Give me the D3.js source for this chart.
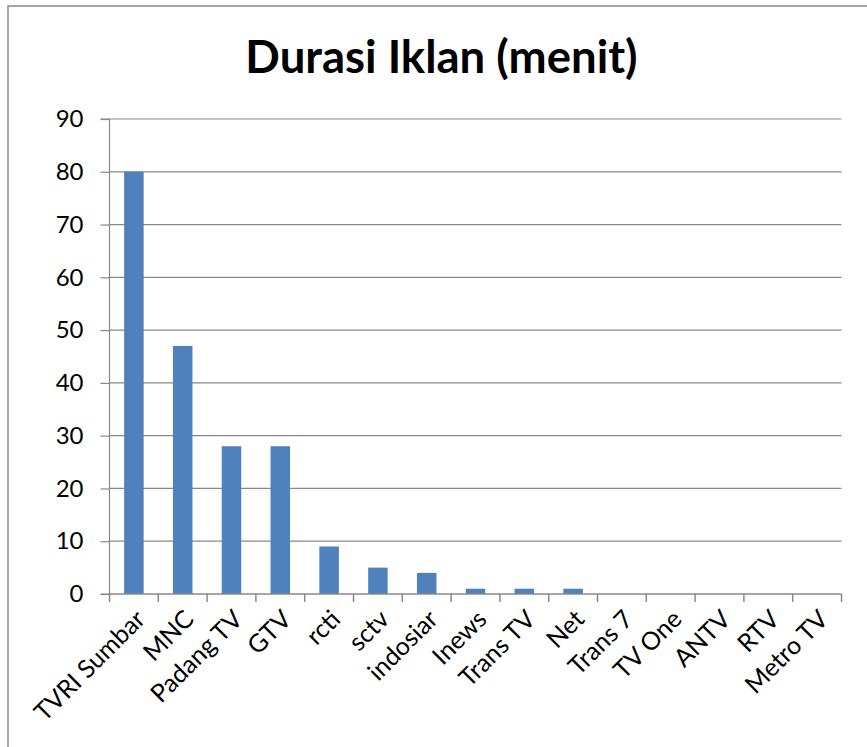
<!DOCTYPE html>
<html>
<head>
<meta charset="utf-8">
<script src="https://cdn.jsdelivr.net/npm/d3@7"></script>
<style>
  html, body { margin: 0; padding: 0; background: #fff; }
  svg { display: block; }
</style>
</head>
<body>
<div id="chart"></div>
<script>
const title = "Durasi Iklan (menit)";
const categories = ["TVRI Sumbar", "MNC", "Padang TV", "GTV", "rcti", "sctv", "indosiar", "Inews", "Trans TV", "Net", "Trans 7", "TV One", "ANTV", "RTV", "Metro TV"];
const values = [80, 47, 28, 28, 9, 5, 4, 1, 1, 1, 0, 0, 0, 0, 0];
const yTicks = [0, 10, 20, 30, 40, 50, 60, 70, 80, 90];

const W = 867, H = 747;
const plotLeft = 109.5, plotRight = 841.5, plotTop = 119, plotBottom = 594;
const font = "Lato, 'Open Sans', sans-serif";
const gray = "#888888";

const svg = d3.select("#chart").append("svg").attr("width", W).attr("height", H);

svg.append("rect").attr("x", 8).attr("y", 6).attr("width", W + 20).attr("height", H + 20)
  .attr("fill", "#fff").attr("stroke", gray).attr("stroke-width", 1.5);

svg.append("text").attr("x", 441.5).attr("y", 73)
  .attr("text-anchor", "middle").attr("font-family", font).attr("font-weight", "bold")
  .attr("font-size", 45.5).attr("fill", "#000").text(title);

const x = d3.scaleBand().domain(categories).range([plotLeft, plotRight]).paddingInner(0).paddingOuter(0);
const y = d3.scaleLinear().domain([0, 90]).range([plotBottom, plotTop]);

// gridlines
svg.append("g").selectAll("line").data(yTicks.filter(d => d > 0)).join("line")
  .attr("x1", plotLeft).attr("x2", plotRight)
  .attr("y1", d => y(d)).attr("y2", d => y(d))
  .attr("stroke", gray).attr("stroke-width", 1.2);

// y axis
const yAxis = d3.axisLeft(y).tickValues(yTicks).tickSize(9).tickPadding(17).tickFormat(d3.format("d"));
const gy = svg.append("g").attr("transform", `translate(${plotLeft},0)`).call(yAxis);
gy.select(".domain").attr("stroke", gray).attr("stroke-width", 1.2).attr("d", `M-9,${plotTop}H0V${plotBottom}H-9`);
gy.selectAll(".tick line").attr("stroke", gray).attr("stroke-width", 1.2);
gy.selectAll(".tick text").attr("font-family", font).attr("font-size", 24).attr("fill", "#000");

// bars
const bw = x.bandwidth() * 0.4;
svg.append("g").selectAll("rect").data(values).join("rect")
  .attr("x", (d, i) => x(categories[i]) + x.bandwidth() / 2 - bw / 2)
  .attr("width", bw)
  .attr("y", d => y(d))
  .attr("height", d => y(0) - y(d))
  .attr("fill", "#4F81BD");

// x axis line and ticks
const gx = svg.append("g");
gx.append("line").attr("x1", plotLeft).attr("x2", plotRight).attr("y1", plotBottom).attr("y2", plotBottom)
  .attr("stroke", gray).attr("stroke-width", 1.5);
const bounds = categories.map(c => x(c)).concat([plotRight]);
gx.selectAll("line.t").data(bounds).join("line").attr("class", "t")
  .attr("x1", d => d).attr("x2", d => d).attr("y1", plotBottom).attr("y2", plotBottom + 8)
  .attr("stroke", gray).attr("stroke-width", 1.5);

gx.selectAll("text").data(categories).join("text")
  .attr("transform", d => `translate(${x(d) + x.bandwidth() / 2},${608}) rotate(-45)`)
  .attr("text-anchor", "end").attr("dy", "0.72em")
  .attr("font-family", font).attr("font-size", 25).attr("fill", "#000")
  .text(d => d);
</script>
</body>
</html>
